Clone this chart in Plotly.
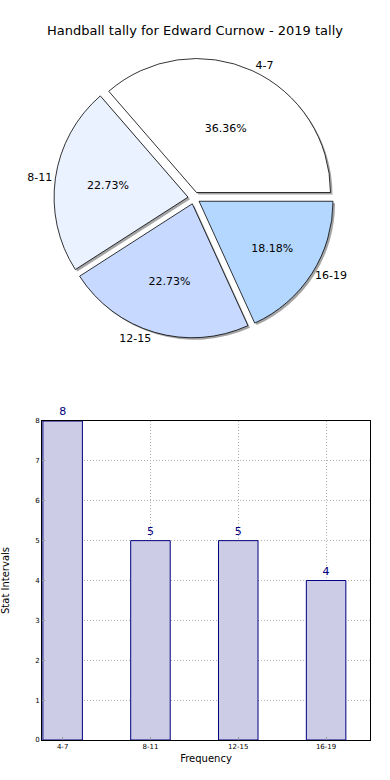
import plotly.graph_objects as go

# ---- data ----
categories = ["4-7", "8-11", "12-15", "16-19"]
counts = [8, 5, 5, 4]
slice_colors = ["#FFFFFF", "#EAF1FF", "#C7D9FF", "#B3D7FF"]
y_ticks = [0, 1, 2, 3, 4, 5, 6, 7, 8]
title_text = "Handball tally for Edward Curnow - 2019 tally"

W, H = 390, 780
FONT = "DejaVu Sans"

def px_x(a, b):
    return [a / W, b / W]

def px_y(top, bottom):
    return [1 - bottom / H, 1 - top / H]

# first slice starts at 3 o'clock and runs counter-clockwise (plotly places the
# first slice's clockwise edge at `rotation` when direction is counterclockwise)
rot = 90 - 360 * counts[0] / sum(counts)

CX, CY, HALF = 194, 198, 140
pie_dom_x = px_x(CX - HALF, CX + HALF)
pie_dom_y = px_y(CY - HALF, CY + HALF)
shadow_dom_x = px_x(CX - HALF + 2, CX + HALF + 2)
shadow_dom_y = px_y(CY - HALF + 2, CY + HALF + 2)

pull = [0.045] * len(categories)

fig = go.Figure()

# shadow
fig.add_trace(go.Pie(
    labels=categories, values=counts, sort=False, direction="counterclockwise",
    rotation=rot, pull=pull, domain=dict(x=shadow_dom_x, y=shadow_dom_y),
    marker=dict(colors=["rgba(90,90,90,0.55)"] * 4, line=dict(width=0)),
    textinfo="none", hoverinfo="skip", showlegend=False,
))
# main pie with percentages
fig.add_trace(go.Pie(
    labels=categories, values=counts, sort=False, direction="counterclockwise",
    rotation=rot, pull=pull, domain=dict(x=pie_dom_x, y=pie_dom_y),
    marker=dict(colors=slice_colors, line=dict(color="black", width=0.8)),
    texttemplate="%{percent:.2%}", textposition="inside",
    insidetextorientation="horizontal",
    textfont=dict(family=FONT, size=11, color="black"),
    showlegend=False,
))
# outside labels
fig.add_trace(go.Pie(
    labels=categories, values=counts, sort=False, direction="counterclockwise",
    rotation=rot, pull=pull, domain=dict(x=pie_dom_x, y=pie_dom_y),
    marker=dict(colors=["rgba(0,0,0,0)"] * 4, line=dict(width=0)),
    texttemplate="%{label}", textposition="outside",
    outsidetextfont=dict(family=FONT, size=11, color="black"),
    hoverinfo="skip", showlegend=False,
))

# bar chart
fig.add_trace(go.Bar(
    x=list(range(len(categories))), y=counts, width=0.45,
    marker=dict(color="rgb(204,204,230)", line=dict(color="navy", width=1)),
    text=[str(v) for v in counts], textposition="outside",
    textfont=dict(family=FONT, size=11, color="navy"),
    cliponaxis=False, showlegend=False,
))

grid_common = dict(
    showgrid=True, gridcolor="#b0b0b0", griddash="1px,2px", gridwidth=1,
    showline=True, mirror=True, linecolor="black", linewidth=1,
    ticks="inside", ticklen=3, tickcolor="#999999",
    zeroline=False, automargin=False,
    tickfont=dict(size=7, color="black"),
)

fig.update_layout(
    width=W, height=H,
    margin=dict(l=0, r=0, t=0, b=0),
    paper_bgcolor="white", plot_bgcolor="white",
    font=dict(family=FONT, color="black"),
    title=dict(text=title_text, x=0.5, xanchor="center", xref="paper",
               y=1 - 30 / H, yref="container", yanchor="middle",
               font=dict(family=FONT, size=13, color="black")),
    xaxis=dict(
        domain=px_x(42, 370), range=[-0.235, 3.5],
        tickmode="array", tickvals=list(range(len(categories))), ticktext=categories,
        title=dict(text="Frequency", font=dict(size=10), standoff=4),
        **grid_common,
    ),
    yaxis=dict(
        domain=px_y(421, 740), range=[0, 8],
        tickmode="array", tickvals=y_ticks,
        title=dict(text="Stat Intervals", font=dict(size=10), standoff=33),
        **grid_common,
    ),
)

fig.write_html(
    "out.html",
    config={"displayModeBar": False},
    post_script="document.body.style.margin='0';document.body.style.overflow='hidden';",
)
